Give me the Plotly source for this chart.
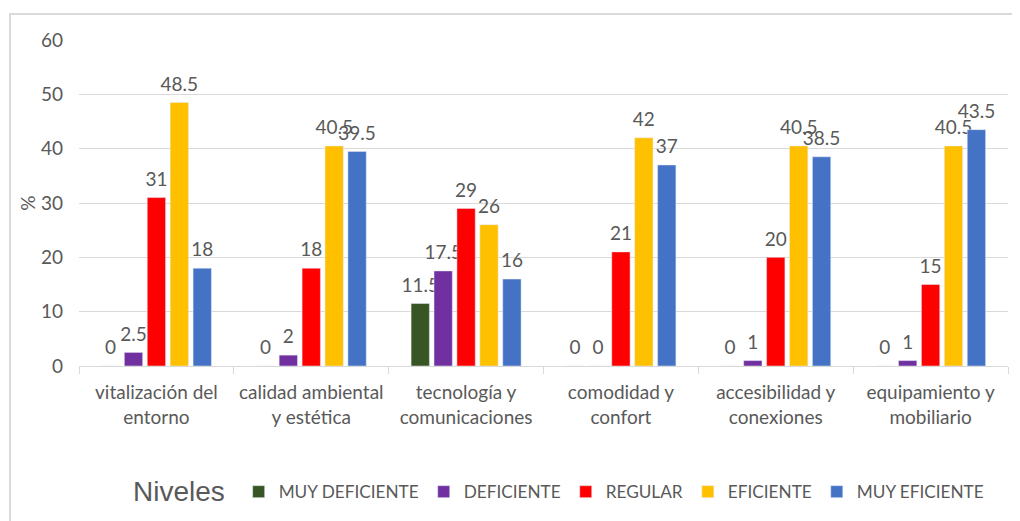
import plotly.graph_objects as go

categories = ["vitalización del<br>entorno", "calidad ambiental<br>y estética", "tecnología y<br>comunicaciones",
              "comodidad y<br>confort", "accesibilidad y<br>conexiones", "equipamiento y<br>mobiliario"]
series_names = ["MUY DEFICIENTE", "DEFICIENTE", "REGULAR", "EFICIENTE", "MUY EFICIENTE"]
muy_deficiente = [0, 0, 11.5, 0, 0, 0]
deficiente = [2.5, 2, 17.5, 0, 1, 1]
regular = [31, 18, 29, 21, 20, 15]
eficiente = [48.5, 40.5, 26, 42, 40.5, 40.5]
muy_eficiente = [18, 39.5, 16, 37, 38.5, 43.5]
colors = ["#375623", "#7030A0", "#FF0000", "#FFC000", "#4472C4"]
y_ticks = [0, 10, 20, 30, 40, 50, 60]

FONT = "Lato"
GREY = "#595959"
W, H = 1012, 513          # page body has an 8px margin
L, T, PW, PH = 71, 32, 929, 326

fig = go.Figure()
for name, vals, col in zip(series_names, [muy_deficiente, deficiente, regular, eficiente, muy_eficiente], colors):
    fig.add_trace(go.Bar(
        x=categories, y=vals, name=name, marker_color=col,
        text=[f"<span style='font-size:19px'>{v:g}</span><br>&nbsp;" for v in vals],
        textposition="outside", constraintext="none",
        cliponaxis=False, textfont=dict(family=FONT, size=6, color=GREY),
    ))

fig.update_layout(
    width=W, height=H,
    margin=dict(l=L, r=W - L - PW, t=T, b=H - T - PH),
    paper_bgcolor="white", plot_bgcolor="white",
    barmode="group", bargap=0.26, bargroupgap=0.2,
    font=dict(family=FONT, color=GREY),
    showlegend=True,
    legend=dict(orientation="h", x=552 / W, xanchor="center", xref="container",
                y=(H - 485) / H, yanchor="middle", yref="container",
                font=dict(family=FONT, size=17.2, color=GREY), bgcolor="rgba(0,0,0,0)",
                title=dict(text="<span style='font-size:28px'>Niveles</span> ",
                           font=dict(family="Liberation Sans", size=21, color=GREY)),
                itemwidth=30, traceorder="normal"),
    yaxis=dict(range=[0, 60], tickvals=y_ticks, showgrid=True, gridcolor="#D9D9D9", gridwidth=1,
               zeroline=False, showline=False, ticks="", ticklabelstandoff=15, automargin=False,
               tickfont=dict(family=FONT, size=19, color=GREY),
               title=dict(text="%", font=dict(family=FONT, size=19, color=GREY), standoff=0)),
    xaxis=dict(showline=True, linecolor="#D9D9D9", linewidth=1, ticks="outside", tickson="boundaries",
               ticklen=7, tickcolor="#D9D9D9", automargin=False, ticklabelstandoff=9,
               tickfont=dict(family=FONT, size=19, color=GREY)),
)

fig.add_shape(type="rect", xref="paper", yref="paper",
              x0=(2 - L) / PW, x1=(W + 20 - L) / PW,
              y0=(T + PH - (H + 20)) / PH, y1=(T + PH - 6) / PH,
              line=dict(color="#D9D9D9", width=2), fillcolor="rgba(0,0,0,0)", layer="below")

fig.write_html("out.html")
